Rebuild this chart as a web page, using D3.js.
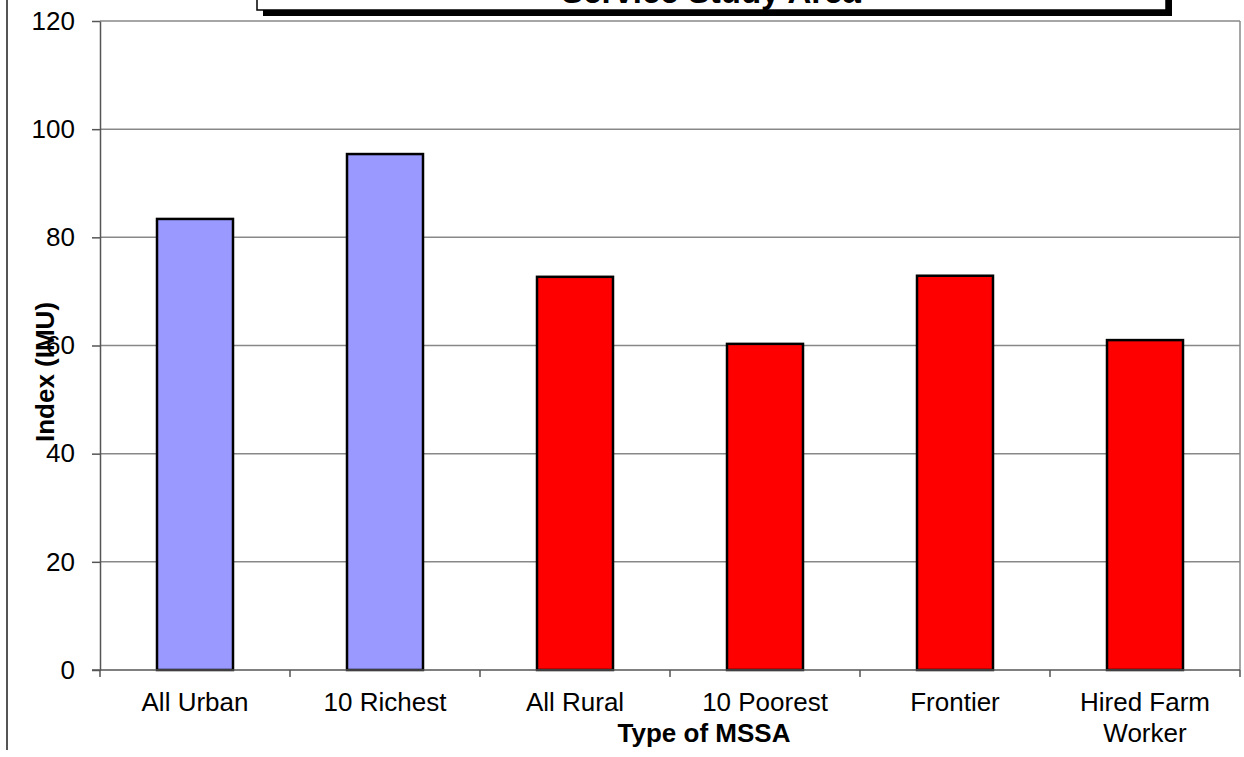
<!DOCTYPE html>
<html>
<head>
<meta charset="utf-8">
<style>
    body { margin: 0; background: #fff; }
    text { font-family: "Liberation Sans", Arial, sans-serif; fill: #000; }
    .tick text { font-size: 26px; }
    .axis path, .axis line { stroke: #555; stroke-width: 1.5; }
    .grid line { stroke: #888; stroke-width: 1.5; }
    .bar { stroke: #000; stroke-width: 2.5; }
</style>
</head>
<body>
<div id="target"></div>
<script src="https://cdnjs.cloudflare.com/ajax/libs/d3/7.8.5/d3.min.js"></script>
<script>
    var categories = ['All Urban', '10 Richest', 'All Rural', '10 Poorest', 'Frontier', 'Hired Farm Worker'];
    var values = [83.4, 95.4, 72.7, 60.3, 72.9, 61.0];
    var barColors = ['#9999ff', '#9999ff', '#ff0000', '#ff0000', '#ff0000', '#ff0000'];
    var yTicks = [0, 20, 40, 60, 80, 100, 120];

    var width = 1244, height = 757;
    var plot = {left: 100, top: 21, right: 1240, bottom: 670};

    var svg = d3.select('#target').append('svg')
        .attr('width', width)
        .attr('height', height);

    // outer chart border (only left edge is visible)
    svg.append('line')
        .attr('x1', 7).attr('x2', 7)
        .attr('y1', 0).attr('y2', 750)
        .attr('stroke', '#555').attr('stroke-width', 2);

    var x = d3.scaleBand()
        .domain(categories)
        .range([plot.left, plot.right])
        .paddingInner(0.6)
        .paddingOuter(0.3);
    var bands = d3.scaleBand().domain(categories).range([plot.left, plot.right]);

    var y = d3.scaleLinear().domain([0, 120]).range([plot.bottom, plot.top]);

    // gridlines
    svg.append('g').attr('class', 'grid')
        .selectAll('line')
        .data(yTicks.filter(function (d) { return d > 0; }))
        .enter().append('line')
        .attr('x1', plot.left).attr('x2', plot.right)
        .attr('y1', function (d) { return y(d); })
        .attr('y2', function (d) { return y(d); });

    // right border of plot area
    svg.append('line')
        .attr('x1', plot.right).attr('x2', plot.right)
        .attr('y1', plot.top).attr('y2', plot.bottom)
        .attr('stroke', '#888').attr('stroke-width', 1.5);

    // bars
    svg.append('g').selectAll('rect')
        .data(values)
        .enter().append('rect')
        .attr('class', 'bar')
        .attr('x', function (d, i) { return x(categories[i]); })
        .attr('width', x.bandwidth())
        .attr('y', function (d) { return y(d); })
        .attr('height', function (d) { return y(0) - y(d); })
        .attr('fill', function (d, i) { return barColors[i]; });

    // y axis
    svg.append('g').attr('class', 'axis')
        .attr('transform', 'translate(' + plot.left + ',0)')
        .call(d3.axisLeft(y).tickValues(yTicks).tickSize(8).tickPadding(17).tickSizeOuter(0));

    // x axis with ticks at category boundaries
    var xg = svg.append('g').attr('class', 'axis');
    xg.append('line')
        .attr('x1', plot.left - 8).attr('x2', plot.right)
        .attr('y1', plot.bottom).attr('y2', plot.bottom);
    xg.selectAll('line.sep')
        .data(categories.concat(['end']))
        .enter().append('line')
        .attr('class', 'sep')
        .attr('x1', function (d, i) { return plot.left + i * bands.bandwidth(); })
        .attr('x2', function (d, i) { return plot.left + i * bands.bandwidth(); })
        .attr('y1', plot.bottom).attr('y2', plot.bottom + 7);

    var labels = svg.append('g').selectAll('text')
        .data(categories)
        .enter().append('text')
        .attr('text-anchor', 'middle')
        .style('font-size', '26px')
        .attr('x', function (d) { return bands(d) + bands.bandwidth() / 2; })
        .attr('y', 711);
    labels.each(function (d) {
        var t = d3.select(this);
        var lines = d === 'Hired Farm Worker' ? ['Hired Farm', 'Worker'] : [d];
        lines.forEach(function (l, i) {
            t.append('tspan')
                .attr('x', t.attr('x'))
                .attr('dy', i === 0 ? 0 : 31)
                .text(l);
        });
    });

    // axis titles
    svg.append('text')
        .attr('x', 704).attr('y', 742)
        .attr('text-anchor', 'middle')
        .style('font-size', '26px').style('font-weight', 'bold')
        .text('Type of MSSA');

    svg.append('text')
        .attr('transform', 'translate(54,372) rotate(-90)')
        .attr('text-anchor', 'middle')
        .style('font-size', '26px').style('font-weight', 'bold')
        .text('Index (IMU)');

    // title box with shadow, cut off at the top
    svg.append('rect')
        .attr('x', 263).attr('y', -40)
        .attr('width', 909).attr('height', 56)
        .attr('fill', '#000');
    svg.append('rect')
        .attr('x', 257).attr('y', -45)
        .attr('width', 909).attr('height', 55)
        .attr('fill', '#fff').attr('stroke', '#000').attr('stroke-width', 1.5);
    svg.append('text')
        .attr('x', 711).attr('y', 3)
        .attr('text-anchor', 'middle')
        .style('font-size', '33px').style('font-weight', 'bold')
        .text('Service Study Area');
</script>
</body>
</html>
